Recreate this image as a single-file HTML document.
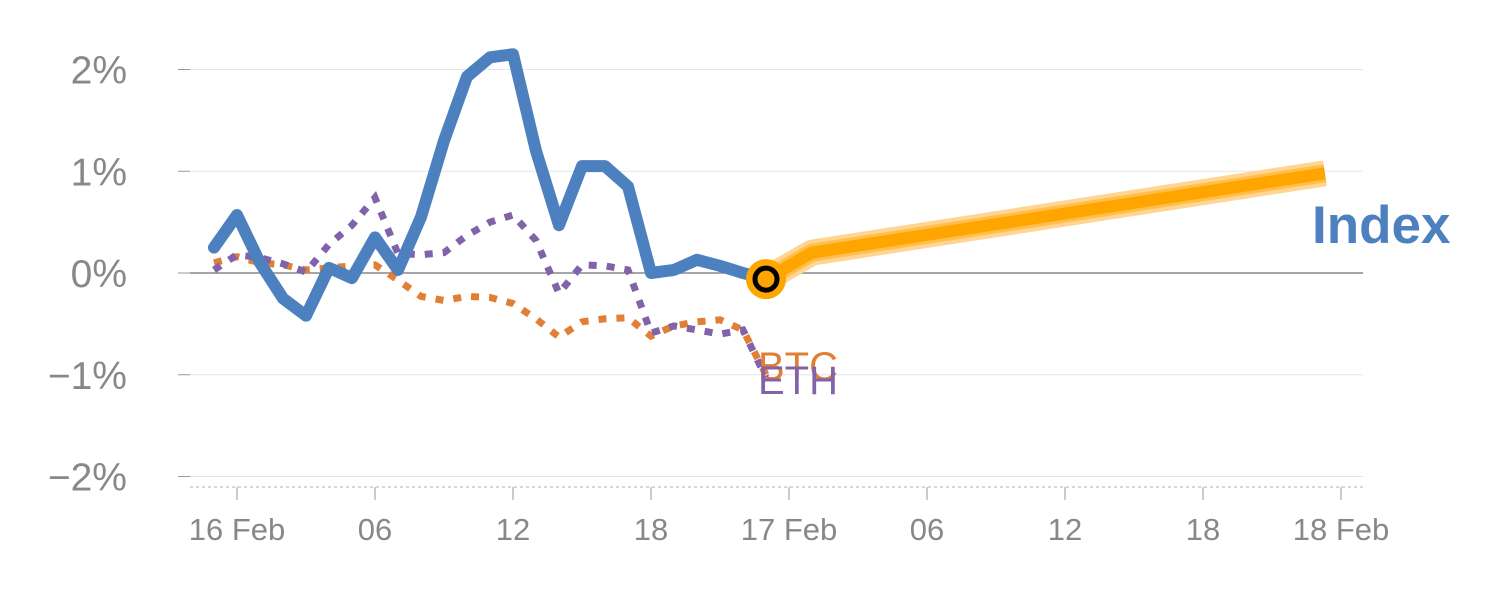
<!DOCTYPE html>
<html><head><meta charset="utf-8"><style>
body{margin:0;background:#fff}
svg text{font-family:"Liberation Sans",sans-serif}
</style></head><body>
<svg id="chart" width="1500" height="600" xmlns="http://www.w3.org/2000/svg">
<g id="grid"></g>
<g id="yaxis"></g>
<g id="xaxis"></g>
<g id="series"></g>
</svg>
<script>
const yTicks=[2,1,0,-1,-2];
const yTickLabels=["2%","1%","0%","−1%","−2%"];
const xTicks=[0,6,12,18,24,30,36,42,48];
const xTickLabels=["16 Feb","06","12","18","17 Feb","06","12","18","18 Feb"];
const hours=[-1,0,1,2,3,4,5,6,7,8,9,10,11,12,13,14,15,16,17,18,19,20,21,22,23];
const indexVals=[0.25,0.57,0.1,-0.25,-0.42,0.05,-0.05,0.35,0.03,0.55,1.3,1.93,2.12,2.15,1.2,0.47,1.05,1.05,0.85,0.0,0.03,0.13,0.07,0.0,-0.06];
const btcVals=[0.1,0.16,0.1,0.08,0.03,0.05,0.07,0.08,-0.07,-0.23,-0.27,-0.23,-0.24,-0.3,-0.45,-0.63,-0.48,-0.45,-0.44,-0.62,-0.52,-0.48,-0.46,-0.56,-1.0];
const ethVals=[0.03,0.18,0.15,0.09,0.01,0.28,0.47,0.74,0.19,0.18,0.2,0.37,0.5,0.57,0.32,-0.2,0.08,0.07,0.03,-0.59,-0.52,-0.56,-0.6,-0.56,-1.03];
const fcHours=[23,25,47.3];
const fcVals=[-0.06,0.2,0.98];

const X=h=>237+h*(1341-237)/48;
const Y=v=>273-v*101.75;
const NS="http://www.w3.org/2000/svg";
function mk(tag,attrs,parent,text){const e=document.createElementNS(NS,tag);for(const k in attrs)e.setAttribute(k,attrs[k]);if(text!==undefined)e.textContent=text;parent.appendChild(e);return e;}
const grid=document.getElementById('grid'),ya=document.getElementById('yaxis'),xa=document.getElementById('xaxis'),ser=document.getElementById('series');
yTicks.forEach((t,i)=>{
 const g=mk('line',{x1:190,x2:1363,y1:Y(t),y2:Y(t),stroke:t===0?'#888':'#e6e6e6','stroke-width':t===0?1.5:1},grid);
 
 
 const tk=mk('line',{x1:178,x2:190,y1:Y(t),y2:Y(t),stroke:'#999','stroke-width':1},ya);
 
 
 const tx=mk('text',{x:127,y:Y(t)+14,'text-anchor':'end','font-size':39,fill:'#888'},ya,yTickLabels[i]);
 
 
});
const base=mk('line',{x1:190,x2:1363,y1:487,y2:487,stroke:'#ccc','stroke-width':1.5,'stroke-dasharray':'3 3'},xa);


xTicks.forEach((t,i)=>{
 const tk=mk('line',{x1:X(t),x2:X(t),y1:487,y2:500,stroke:'#999','stroke-width':1},xa);
 
 
 const tx=mk('text',{x:X(t),y:540,'text-anchor':'middle','font-size':31,fill:'#888'},xa,xTickLabels[i]);
 
 
});
const pts=(hs,vs)=>hs.map((h,i)=>X(h)+','+Y(vs[i])).join(' ');
const btc=mk('polyline',{points:pts(hours,btcVals),fill:'none',stroke:'#e07f35','stroke-width':7,'stroke-dasharray':'8 10'},ser);


const eth=mk('polyline',{points:pts(hours,ethVals),fill:'none',stroke:'#8063a8','stroke-width':7,'stroke-dasharray':'8 10'},ser);


const idx=mk('polyline',{points:pts(hours,indexVals),fill:'none',stroke:'#4d80bf','stroke-width':12,'stroke-linejoin':'round','stroke-linecap':'round'},ser);


const fch=mk('polyline',{points:pts(fcHours,fcVals),fill:'none',stroke:'#ffd591','stroke-width':26,'stroke-linejoin':'round'},ser);


const fcm=mk('polyline',{points:pts(fcHours,fcVals),fill:'none',stroke:'#ffbf4d','stroke-width':18,'stroke-linejoin':'round'},ser);


const fc=mk('polyline',{points:pts(fcHours,fcVals),fill:'none',stroke:'#ffa500','stroke-width':12,'stroke-linejoin':'round'},ser);


const c1=mk('circle',{cx:X(fcHours[0]),cy:Y(fcVals[0]),r:20,fill:'#ffa500'},ser);


mk('circle',{cx:X(fcHours[0]),cy:Y(fcVals[0]),r:11,fill:'#ffa500',stroke:'#000','stroke-width':5},ser);
const lb=mk('text',{x:758,y:380,'font-size':40,fill:'#e07f35'},ser,'BTC');


const le=mk('text',{x:758,y:394,'font-size':40,fill:'#8063a8'},ser,'ETH');


const li=mk('text',{x:1312,y:243,'font-size':53,'font-weight':'bold',fill:'#4d80bf'},ser,'Index');


</script>
</body></html>
